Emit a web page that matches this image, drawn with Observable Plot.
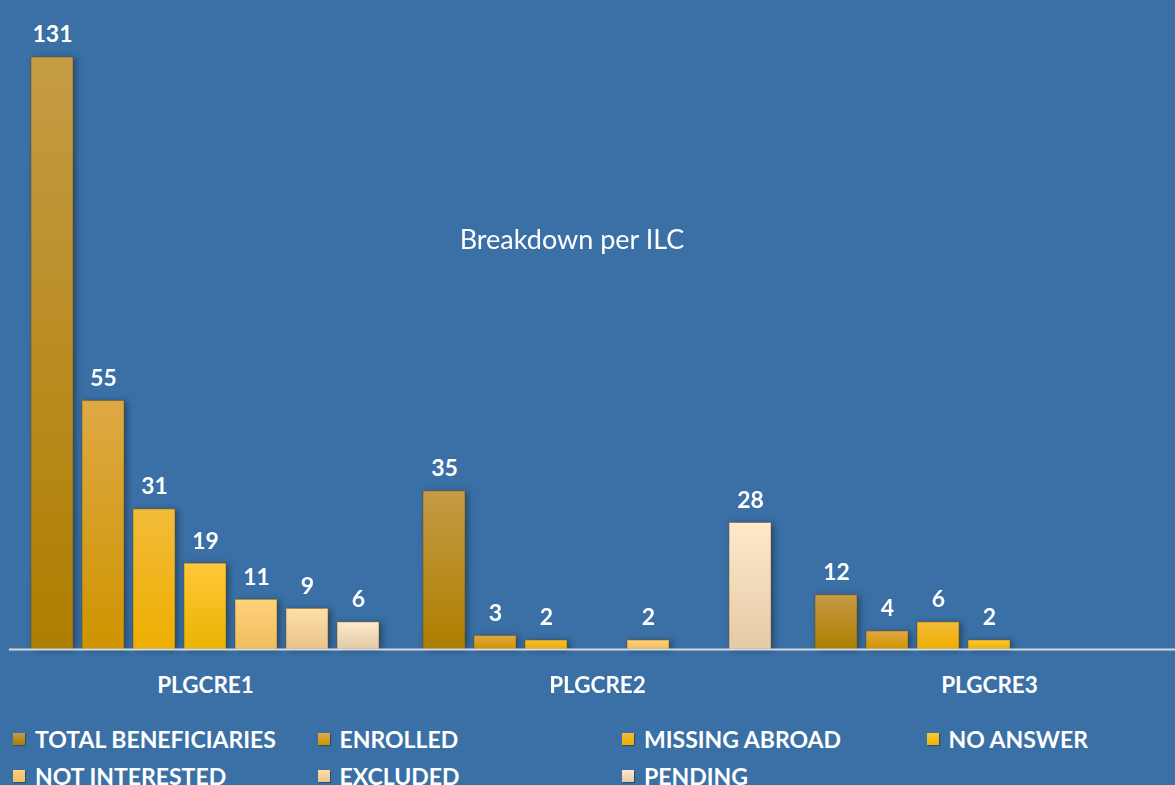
<!DOCTYPE html>
<html>
<head>
<meta charset="utf-8">
<script src="https://cdn.jsdelivr.net/npm/d3@7"></script>
<script src="https://cdn.jsdelivr.net/npm/@observablehq/plot@0.6"></script>
<style>
  html, body { margin: 0; padding: 0; background: #3a70a6; overflow: hidden; width: 1175px; height: 785px; }
  #wrap { position: relative; width: 1175px; height: 785px; overflow: hidden; font-family: Lato, "Open Sans", sans-serif; color: white; }
  #title { position: absolute; left: 0; width: 1144px; top: 222px; text-align: center; font-size: 27px; font-weight: 400; color: white; }
  #chart { position: absolute; left: 0; top: 0; width: 1185px; }
  #chart svg { max-width: none !important; }
  #legend { position: absolute; left: 13px; top: 726px; display: grid; grid-template-columns: 304.5px 304.5px 304.5px 304.5px; row-gap: 12px; }
  .item { display: flex; align-items: center; font-size: 23px; font-weight: 700; white-space: nowrap; height: 25px; }
  .sw { width: 12px; height: 12px; margin-right: 10px; box-shadow: 1px 1px 1px rgba(0,0,0,0.3); }
</style>
</head>
<body>
<div id="wrap">
  <div id="chart"></div>
  <div id="title">Breakdown per ILC</div>
  <div id="legend"></div>
</div>
<script>
const groups = ["PLGCRE1", "PLGCRE2", "PLGCRE3"];
const series = ["TOTAL BENEFICIARIES", "ENROLLED", "MISSING ABROAD", "NO ANSWER", "NOT INTERESTED", "EXCLUDED", "PENDING"];
const plgcre1 = [131, 55, 31, 19, 11, 9, 6];
const plgcre2 = [35, 3, 2, null, 2, null, 28];
const plgcre3 = [12, 4, 6, 2, null, null, null];
const topColors = ["#c59b45", "#dea945", "#f3bb3a", "#ffc83a", "#ffd27c", "#ffdfa5", "#ffe9ca"];
const bottomColors = ["#ae7e00", "#cf9400", "#eeae00", "#e9b500", "#efbd5c", "#e8c48d", "#e4cba7"];

const valuesByGroup = [plgcre1, plgcre2, plgcre3];
const data = [];
groups.forEach((g, gi) => {
  series.forEach((s, si) => {
    const v = valuesByGroup[gi][si];
    if (v != null) data.push({group: g, series: s, value: v});
  });
});

const chart = Plot.plot({
  width: 1185,
  height: 705,
  marginTop: 0,
  marginBottom: 56,
  marginLeft: 9,
  marginRight: 0,
  style: {background: "transparent", color: "white", fontFamily: "Lato, 'Open Sans', sans-serif", overflow: "visible", maxWidth: "none"},
  fx: {domain: groups, padding: 0, label: null},
  x: {domain: series, paddingInner: 0.18, paddingOuter: 0.41, axis: null},
  y: {domain: [0, 143.6], axis: null},
  color: {domain: series, range: series.map((s, i) => `url(#grad${i})`)},
  marks: [
    Plot.barY(data, {fx: "group", x: "series", y: "value", fill: "series", stroke: "rgba(100,70,10,0.45)", strokeWidth: 1}),
    Plot.ruleY([0], {stroke: "#d6d9de", strokeWidth: 2}),
    Plot.text(data, {fx: "group", x: "series", y: "value", text: d => String(d.value), dy: -15, lineAnchor: "bottom", fill: "white", fontSize: 23, fontWeight: "bold"}),
    Plot.axisFx({anchor: "bottom", tickSize: 0, tickPadding: 28, fontSize: 22.5, fontWeight: "bold", label: null})
  ]
});
chart.style.maxWidth = "none";

const svg = d3.select(chart);
const defs = svg.insert("defs", ":first-child");
series.forEach((s, i) => {
  const lg = defs.append("linearGradient").attr("id", `grad${i}`).attr("x1", 0).attr("y1", 0).attr("x2", 0).attr("y2", 1);
  lg.append("stop").attr("offset", "0%").attr("stop-color", topColors[i]);
  lg.append("stop").attr("offset", "100%").attr("stop-color", bottomColors[i]);
});
svg.selectAll("g[aria-label='bar']").style("filter", "drop-shadow(3px 1px 3px rgba(0,0,0,0.35))");
document.getElementById("chart").appendChild(chart);

const legend = d3.select("#legend");
series.forEach((s, i) => {
  const item = legend.append("div").attr("class", "item");
  item.append("div").attr("class", "sw").style("background", `linear-gradient(${topColors[i]}, ${bottomColors[i]})`);
  item.append("span").text(s);
});
</script>
</body>
</html>
